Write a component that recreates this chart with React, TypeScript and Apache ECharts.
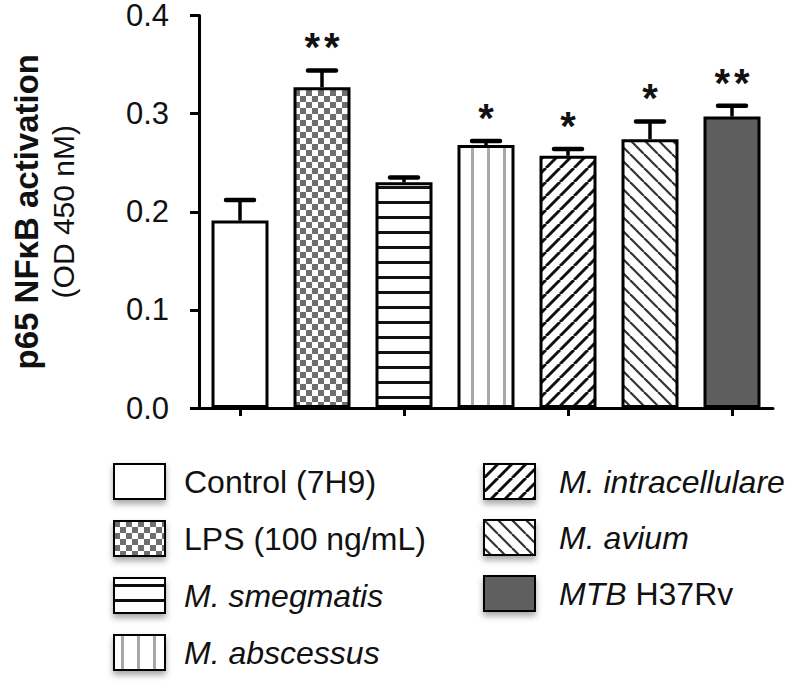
import React, { useEffect, useRef } from "react";
import * as echarts from "echarts";

const categories = [
  "Control (7H9)",
  "LPS (100 ng/mL)",
  "M. smegmatis",
  "M. abscessus",
  "M. intracellulare",
  "M. avium",
  "MTB H37Rv",
];
const means = [0.191, 0.327, 0.23, 0.268, 0.257, 0.274, 0.297];
const errors = [0.021, 0.017, 0.005, 0.004, 0.007, 0.018, 0.011];
const stars = ["", "**", "", "*", "*", "*", "**"];
const patternKinds = ["white", "checker", "hstripe", "vstripe", "slash", "backslash", "solid"];
const leftLegend = categories.slice(0, 4);
const rightLegend = categories.slice(4);

const FONT = "'Liberation Sans', Arial, Helvetica, sans-serif";

function makePattern(kind: string): any {
  if (kind === "white") return "#ffffff";
  if (kind === "solid") return "#5e5e5e";
  const c = document.createElement("canvas");
  let w = 12, h = 12;
  if (kind === "checker") { w = 12; h = 12; }
  if (kind === "hstripe") { w = 8; h = 15; }
  if (kind === "vstripe") { w = 16; h = 8; }
  if (kind === "slash" || kind === "backslash") { w = 14; h = 14; }
  c.width = w; c.height = h;
  const ctx = c.getContext("2d")!;
  ctx.fillStyle = "#ffffff";
  ctx.fillRect(0, 0, w, h);
  if (kind === "checker") {
    ctx.fillStyle = "#6e6e6e";
    ctx.fillRect(0, 0, 6, 6);
    ctx.fillRect(6, 6, 6, 6);
  } else if (kind === "hstripe") {
    ctx.fillStyle = "#111111";
    ctx.fillRect(0, 6, w, 3);
  } else if (kind === "vstripe") {
    ctx.fillStyle = "#a8a8a8";
    ctx.fillRect(7, 0, 3, h);
  } else if (kind === "slash") {
    ctx.strokeStyle = "#111111";
    ctx.lineWidth = 3;
    for (let k = -1; k <= 1; k++) {
      ctx.beginPath();
      ctx.moveTo(k * w, h);
      ctx.lineTo(k * w + w, 0);
      ctx.stroke();
    }
  } else if (kind === "backslash") {
    ctx.strokeStyle = "#333333";
    ctx.lineWidth = 2.2;
    for (let k = -1; k <= 1; k++) {
      ctx.beginPath();
      ctx.moveTo(k * w, 0);
      ctx.lineTo(k * w + w, h);
      ctx.stroke();
    }
  }
  return { image: c, repeat: "repeat", imageWidth: w, imageHeight: h };
}

function legendFormatter(name: string) {
  if (name.startsWith("M. ")) return "{i|" + name + "}";
  if (name.startsWith("MTB")) return "{i|MTB}{n| H37Rv}";
  return "{n|" + name + "}";
}

function legendText(padLeft: number) {
  return {
    color: "#111",
    fontFamily: FONT,
    fontSize: 32,
    padding: [0, 0, 0, padLeft],
    rich: {
      i: { fontStyle: "italic", fontSize: 32, fontFamily: FONT, color: "#111" },
      n: { fontSize: 32, fontFamily: FONT, color: "#111" },
    },
  };
}

export default function App() {
  const ref = useRef<HTMLDivElement>(null);
  useEffect(() => {
    document.body.style.margin = "0";
    const chart = echarts.init(ref.current!, null, { renderer: "svg" });
    const barSeries = categories.map((name, idx) => ({
      name,
      type: "bar",
      barWidth: 57,
      barGap: "-100%",
      data: means.map((v, j) => (j === idx ? v : null)),
      itemStyle: {
        color: makePattern(patternKinds[idx]),
        borderColor: "#000",
        borderWidth: 3,
      },
    }));
    const errSeries = {
      type: "custom",
      z: 5,
      data: means.map((m, i) => [i, m, errors[i]]),
      renderItem: (params: any, api: any) => {
        const i = api.value(0);
        const m = api.value(1);
        const e = api.value(2);
        const base = api.coord([i, m]);
        const top = api.coord([i, m + e]);
        const children: any[] = [
          {
            type: "line",
            shape: { x1: base[0], y1: base[1], x2: top[0], y2: top[1] },
            style: { stroke: "#000", lineWidth: 3.5 },
          },
          {
            type: "line",
            shape: { x1: top[0] - 14, y1: top[1], x2: top[0] + 14, y2: top[1] },
            style: { stroke: "#000", lineWidth: 4.5, lineCap: "round" },
          },
        ];
        const s = stars[params.dataIndex];
        if (s) {
          const txt = s.split("").map(() => "{s|*}").join("");
          children.push({
            type: "text",
            x: top[0],
            y: top[1] - 3,
            style: {
              text: txt,
              align: "center",
              verticalAlign: "bottom",
              rich: {
                s: {
                  fontSize: 40,
                  fontWeight: "bold",
                  fontFamily: FONT,
                  fill: "#111",
                  padding: [0, 2, 0, 2],
                },
              },
            },
          });
        }
        return { type: "group", children };
      },
    };
    const legendBase = {
      orient: "vertical",
      top: 463,
      padding: 0,
      height: 240,
      itemWidth: 51,
      itemHeight: 35,
      icon: "rect",
      selectedMode: false,
      formatter: legendFormatter,
      itemStyle: { shadowBlur: 6, shadowOffsetY: 4, shadowColor: "rgba(0,0,0,0.35)" },
    };
    chart.setOption({
      animation: false,
      grid: { left: 188, right: 27, top: 12, bottom: 276, containLabel: false },
      xAxis: {
        type: "category",
        data: categories,
        axisLine: { lineStyle: { color: "#000", width: 3 } },
        axisTick: { show: true, alignWithLabel: true, length: 8, lineStyle: { color: "#000", width: 3 } },
        axisLabel: { show: false },
        splitLine: { show: false },
      },
      yAxis: {
        type: "value",
        min: 0,
        max: 0.4,
        interval: 0.1,
        name: "{b|p65 NFκB activation}\n{n|(OD 450 nM)}",
        nameLocation: "middle",
        nameRotate: 90,
        nameGap: 117,
        nameTextStyle: {
          lineHeight: 37,
          rich: {
            b: { fontSize: 33, fontWeight: "bold", fontFamily: FONT, color: "#111", lineHeight: 37 },
            n: { fontSize: 30, fontFamily: FONT, color: "#111", lineHeight: 37 },
          },
        },
        axisLine: { show: true, lineStyle: { color: "#000", width: 3 } },
        axisTick: { show: true, length: 9, lineStyle: { color: "#000", width: 3 } },
        axisLabel: {
          color: "#111",
          fontSize: 31,
          fontFamily: FONT,
          margin: 30,
          formatter: (v: number) => v.toFixed(1),
        },
        splitLine: { show: false },
      },
      legend: [
        {
          ...legendBase,
          data: leftLegend,
          left: 113,
          itemGap: 20,
          textStyle: legendText(14),
        },
        {
          ...legendBase,
          data: rightLegend,
          left: 483,
          itemGap: 19,
          textStyle: legendText(19),
        },
      ],
      series: [...barSeries, errSeries],
    });
    return () => chart.dispose();
  }, []);
  return <div ref={ref} style={{ width: 800, height: 684 }} />;
}
